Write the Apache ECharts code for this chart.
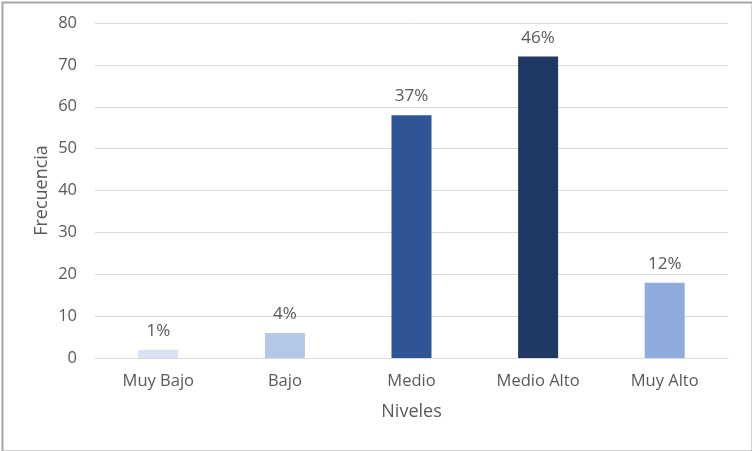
<!DOCTYPE html>
<html>
<head>
<meta charset="utf-8">
<script src="https://cdn.jsdelivr.net/npm/echarts@6/dist/echarts.min.js"></script>
<style>
html,body{margin:0;padding:0;background:#fff;}
#chart{width:752px;height:451px;}
</style>
</head>
<body>
<div id="chart"></div>
<script>
const categories = ['Muy Bajo', 'Bajo', 'Medio', 'Medio Alto', 'Muy Alto'];
const values = [2, 6, 58, 72, 18];
const percentLabels = ['1%', '4%', '37%', '46%', '12%'];
const barColors = ['#DAE3F3', '#B4C7E7', '#2F5597', '#203864', '#8FAADC'];
const yTicks = { min: 0, max: 80, interval: 10 };

const FONT = 'Open Sans';
const TXT = '#595959';

const chart = echarts.init(document.getElementById('chart'), null, { renderer: 'canvas' });
chart.setOption({
  animation: false,
  backgroundColor: '#ffffff',
  graphic: [{
    type: 'rect',
    left: 0, top: 0,
    shape: { x: 1, y: 1, width: 750, height: 449 },
    style: { fill: 'none', stroke: '#a6a6a6', lineWidth: 2 },
    silent: true
  }],
  grid: { left: 95, right: 24, top: 23, bottom: 93 },
  xAxis: {
    type: 'category',
    data: categories,
    name: 'Niveles',
    nameLocation: 'middle',
    nameGap: 45,
    nameMoveOverlap: false,
    nameTextStyle: { color: TXT, fontFamily: FONT, fontSize: 18 },
    axisLine: { show: true, lineStyle: { color: '#d9d9d9', width: 1 } },
    axisTick: { show: false },
    axisLabel: { color: TXT, fontFamily: FONT, fontSize: 16.5, margin: 15 }
  },
  yAxis: {
    type: 'value',
    min: yTicks.min, max: yTicks.max, interval: yTicks.interval,
    name: 'Frecuencia',
    nameLocation: 'middle',
    nameGap: 44,
    nameMoveOverlap: false,
    nameRotate: 90,
    nameTextStyle: { color: TXT, fontFamily: FONT, fontSize: 18 },
    axisLine: { show: false },
    axisTick: { show: false },
    splitLine: { lineStyle: { color: '#d9d9d9', width: 1 } },
    axisLabel: { color: TXT, fontFamily: FONT, fontSize: 16.5, margin: 18 }
  },
  series: [{
    type: 'bar',
    barWidth: 40,
    data: values.map((v, i) => ({ value: v, itemStyle: { color: barColors[i] } })),
    label: {
      show: true,
      position: 'top',
      distance: 10,
      color: TXT,
      fontFamily: FONT,
      fontSize: 17,
      formatter: p => percentLabels[p.dataIndex]
    }
  }]
});
</script>
</body>
</html>
